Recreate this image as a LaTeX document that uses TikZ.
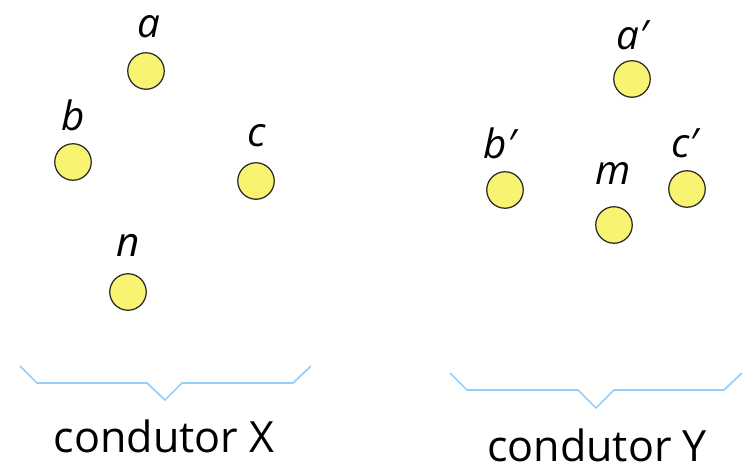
\documentclass[tikz,border=0pt]{standalone}
\usepackage{fontspec}
\setmainfont{Open Sans}
\usepackage{xcolor}
\definecolor{condfill}{RGB}{248,243,112}
\definecolor{bracecol}{RGB}{150,208,248}

\begin{document}
\begin{tikzpicture}[x=0.02cm,y=-0.02cm]
		\tikzset{vertex/.style = {shape=circle,draw=black!85, line width=0.7pt, fill=condfill, minimum size=0.73cm, inner sep=0pt}}
		\tikzset{lbl/.style = {inner sep=0pt, font=\fontsize{23}{27}\selectfont\itshape}}
		\tikzset{caption/.style = {inner sep=0pt, font=\fontsize{24.5}{29}\selectfont}}
		\tikzset{brace/.style = {draw=bracecol, line width=1pt}}

		\useasboundingbox (0,0) rectangle (751,469);

		% condutor X
		\node[vertex] (A_1) at (146,71) {};
		\node[vertex] (A_2) at (73,162) {};
		\node[vertex] (A_3) at (256,181) {};
		\node[vertex] (A_4) at (128,292) {};
		\node[lbl] (L_a) at (149,27) {a};
		\node[lbl] (L_b) at (73,115) {b};
		\node[lbl] (L_c) at (257,136) {c};
		\node[lbl] (L_n) at (128,245) {n};

		% condutor Y
		\node[vertex] (B_1) at (632,79) {};
		\node[vertex] (B_2) at (505,190) {};
		\node[vertex] (B_3) at (687,189) {};
		\node[vertex] (B_4) at (614,225) {};
		\node[lbl] (L_a') at (632,35) {a′};
		\node[lbl] (L_b') at (500,143) {b′};
		\node[lbl] (L_c') at (685,143) {c′};
		\node[lbl] (L_m) at (613,173) {m};

		% chavetas
		\draw[brace] (20,366) -- (37,383) -- (147,383) -- (165,400) -- (182,383) -- (293,383) -- (311,366);
		\draw[brace] (450,373) -- (467,390) -- (578,390) -- (596,408) -- (614,390) -- (724,390) -- (742,373);

		\node[caption] (X) at (164,436) {condutor X};
		\node[caption] (Y) at (597,445) {condutor Y};
	\end{tikzpicture}
\end{document}
